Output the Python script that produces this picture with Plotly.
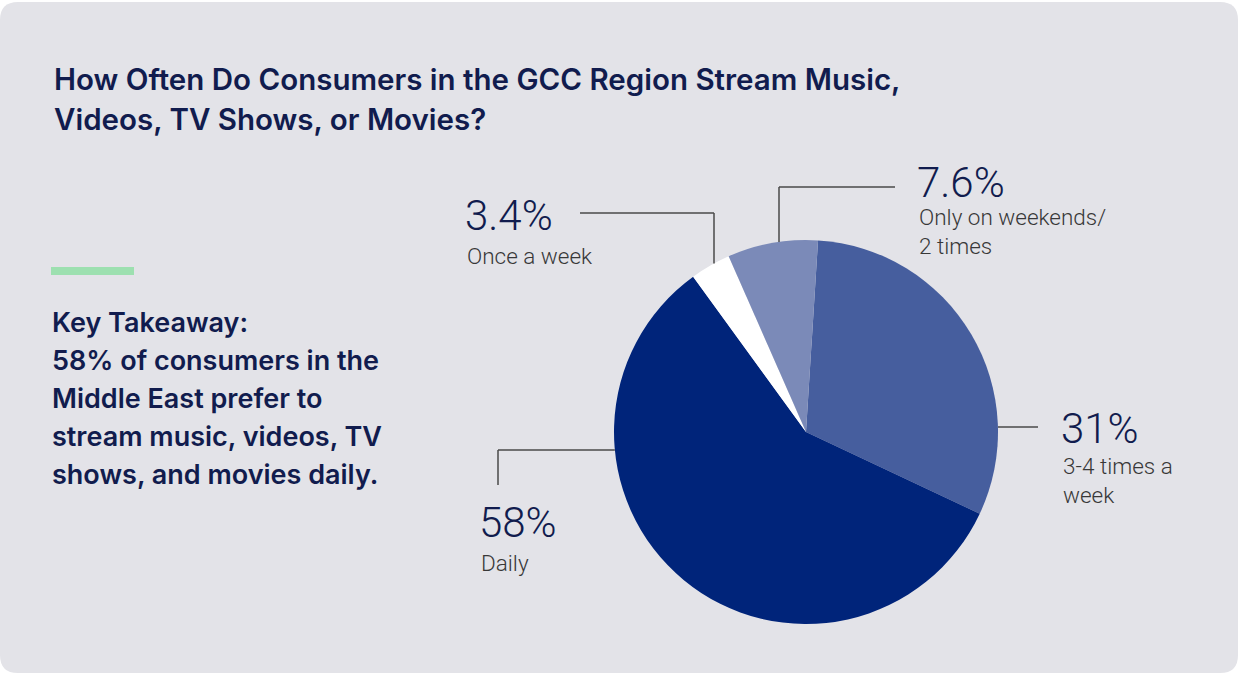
import plotly.graph_objects as go

W, H = 1240, 675

# Survey data
categories = ["3-4 times a week", "Daily", "Once a week", "Only on weekends/<br>2 times"]
shares = [31, 58, 3.4, 7.6]
value_labels = ["31%", "58%", "3.4%", "7.6%"]
slice_colors = ["#465e9e", "#00247a", "#ffffff", "#7b8ab8"]

title_lines = ["How Often Do Consumers in the GCC Region Stream Music,",
               "Videos, TV Shows, or Movies?"]
takeaway_lines = ["Key Takeaway:", "58% of consumers in the", "Middle East prefer to",
                  "stream music, videos, TV", "shows, and movies daily."]

NAVY = "#111c4e"
GRAY = "#383838"
LINE = "#4a4a4a"
CARD = "#e3e3e8"


def px(x):
    return x / W


def py(y):
    return 1 - y / H


# Pie geometry in pixels
cx, cy, r = 806, 432, 192

fig = go.Figure()
fig.add_trace(go.Pie(
    labels=categories,
    values=shares,
    sort=False,
    direction="clockwise",
    rotation=3.6,
    marker=dict(colors=slice_colors, line=dict(width=0)),
    textinfo="none",
    hoverinfo="skip",
    showlegend=False,
    domain=dict(x=[px(cx - r), px(cx + r)], y=[py(cy + r), py(cy - r)]),
))

shapes = []
# rounded card background
x0, y0, x1, y1, rr = 0, 2, 1238, 673, 18
path = (
    f"M {px(x0 + rr)} {py(y0)} L {px(x1 - rr)} {py(y0)} "
    f"Q {px(x1)} {py(y0)} {px(x1)} {py(y0 + rr)} "
    f"L {px(x1)} {py(y1 - rr)} Q {px(x1)} {py(y1)} {px(x1 - rr)} {py(y1)} "
    f"L {px(x0 + rr)} {py(y1)} Q {px(x0)} {py(y1)} {px(x0)} {py(y1 - rr)} "
    f"L {px(x0)} {py(y0 + rr)} Q {px(x0)} {py(y0)} {px(x0 + rr)} {py(y0)} Z"
)
shapes.append(dict(type="path", path=path, xref="paper", yref="paper",
                   fillcolor=CARD, line=dict(width=0), layer="below"))

# green accent bar
shapes.append(dict(type="rect", xref="paper", yref="paper",
                   x0=px(51), x1=px(134), y0=py(275), y1=py(267),
                   fillcolor="#9de0b0", line=dict(width=0)))


def edge_y(x, top=True):
    d = (r ** 2 - (x - cx) ** 2) ** 0.5
    return cy - d if top else cy + d


def leader(points):
    for (ax, ay), (bx, by) in zip(points[:-1], points[1:]):
        shapes.append(dict(type="line", xref="paper", yref="paper",
                           x0=px(ax), y0=py(ay), x1=px(bx), y1=py(by),
                           line=dict(color=LINE, width=1.5)))


# leader lines
leader([(580, 213), (714, 213), (714, edge_y(714))])
leader([(895, 187), (779, 187), (779, edge_y(779))])
leader([(cx + r, 427), (1038, 427)])
leader([(cx - (r ** 2 - (450 - cy) ** 2) ** 0.5, 450), (498, 450), (498, 485)])

annotations = []


def text(x, y, s, size, color, weight=400, family="Inter", anchor="middle"):
    annotations.append(dict(
        x=px(x), y=py(y), xref="paper", yref="paper", text=s, showarrow=False,
        xanchor="left", yanchor=anchor, align="left",
        font=dict(family=family, size=size, color=color, weight=weight),
    ))


# title, one annotation per line for exact leading
for i, line in enumerate(title_lines):
    text(52, 79 + i * 39.5, line, 29.5, NAVY, 600)

# key takeaway
for i, line in enumerate(takeaway_lines):
    text(50, 322 + i * 38, line, 27, NAVY, 600)

# slice labels: value then category
label_pos = {
    "3.4%": (463, 215, 256),
    "7.6%": (915, 183, 231),
    "31%": (1059, 428, 480),
    "58%": (477, 522, 563),
}
for val, cat in zip(value_labels, categories):
    lx, vy, cyy = label_pos[val]
    text(lx, vy, val, 42, NAVY, 300, family="Roboto")
    text(lx + 2, cyy, cat.replace("3-4 times a week", "3-4 times a<br>week"),
         22.5, GRAY, 300, family="Roboto")

fig.update_layout(
    width=W, height=H,
    margin=dict(l=0, r=0, t=0, b=0),
    paper_bgcolor="#ffffff",
    plot_bgcolor="#ffffff",
    shapes=shapes,
    annotations=annotations,
)

fig.write_html("out.html")
